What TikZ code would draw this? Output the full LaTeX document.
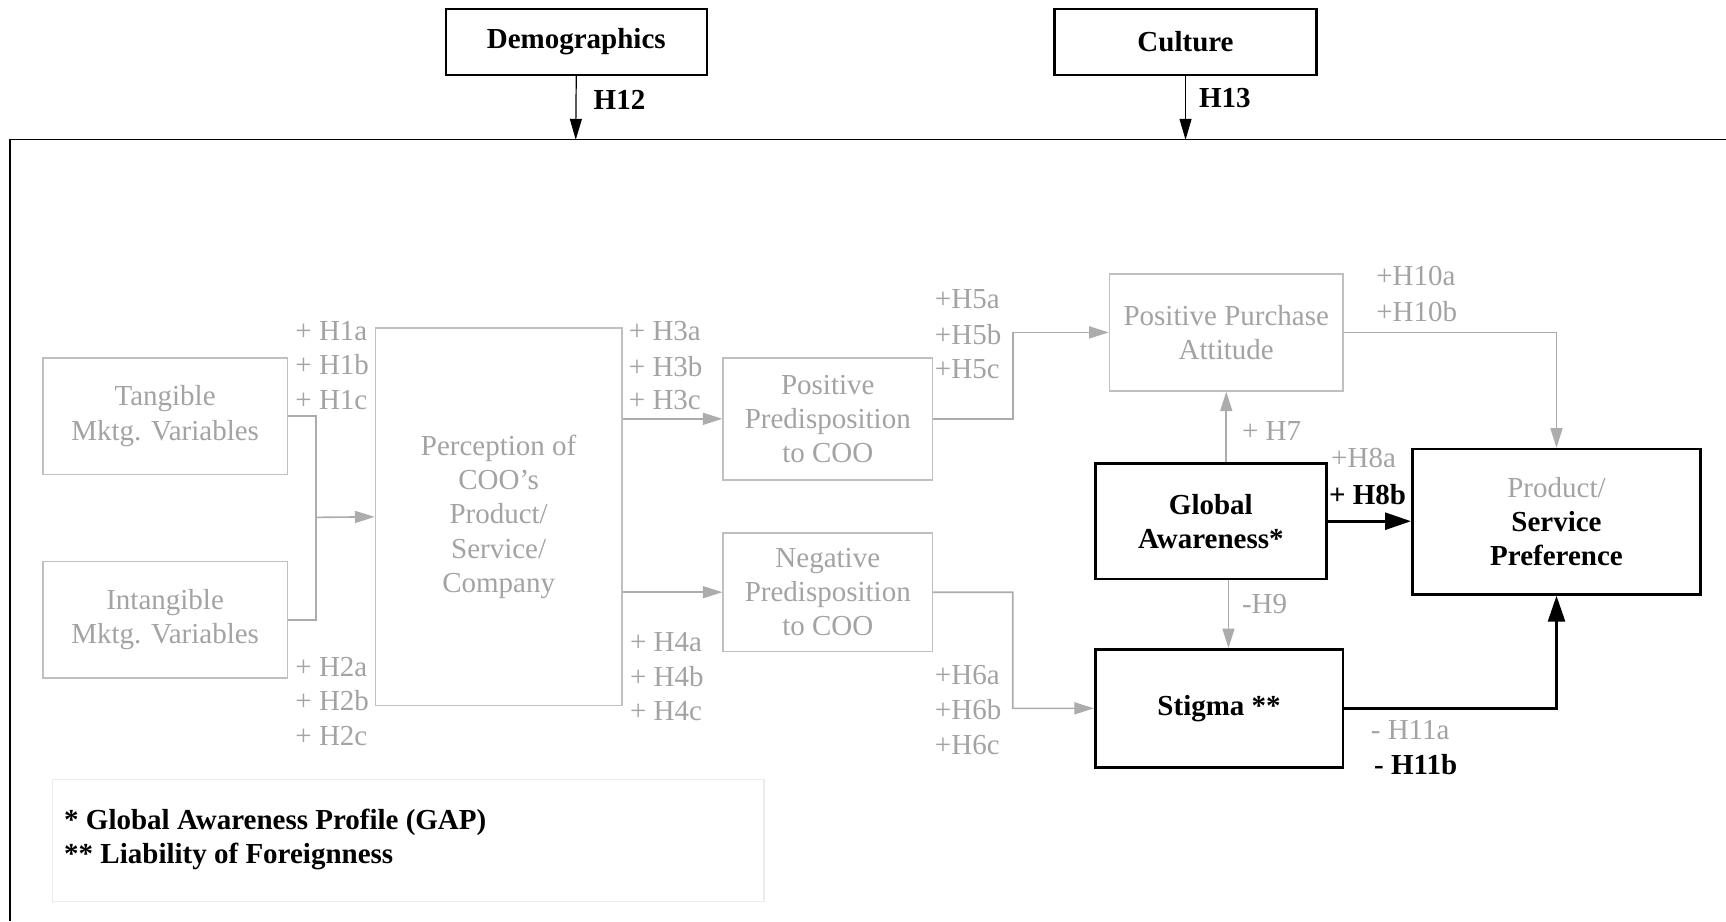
\documentclass[tikz,border=0pt]{standalone}
\usepackage{fontspec}
\setmainfont{Liberation Serif}
\usetikzlibrary{arrows.meta,fit}
\definecolor{cText}{RGB}{163,163,163}
\definecolor{cLine}{RGB}{192,192,192}
\definecolor{cArrow}{RGB}{172,172,172}
\definecolor{cFaint}{RGB}{236,236,236}
\newcommand{\fsz}{\fontsize{14.5}{17.1}\selectfont}
\begin{document}
\begin{tikzpicture}[x=0.5504pt,y=-0.5504pt,font=\fsz,
  gbox/.style={draw=cLine, line width=0.8pt, inner sep=0pt},
  bbox/.style={draw=black, line width=1.3pt, inner sep=0pt},
  gtxt/.style={inner sep=0pt, text=cText, align=center},
  btxt/.style={inner sep=0pt, align=center, font=\fsz\bfseries},
  lbl/.style={anchor=west, inner sep=0pt, text=cText, text height=11pt, text depth=1.5pt},
  blbl/.style={lbl, text=black, font=\fsz\bfseries},
  gcon/.style={draw=cArrow, line width=0.8pt},
  garr/.style={gcon, -{Triangle[length=9.8pt,width=6pt]}},
  barr/.style={draw=black, line width=1.4pt, -{Triangle[length=13pt,width=8.5pt]}},
  tarr/.style={draw=black, line width=0.6pt, -{Triangle[length=10.5pt,width=6pt]}}]
\useasboundingbox (0,0) rectangle (1568,837);

% outer frame
\coordinate (fbl) at (9,837);
\coordinate (ftl) at (9,127);
\coordinate (ftr) at (1568,127);
\draw[line width=0.7pt] (fbl) -- (ftl) -- (ftr);

% top boxes
\node[bbox, line width=1.1pt, fit={(405,8) (642,68)}] (demo) {};
\node[btxt] (demoT) at (demo.center) {Demographics};
\node[bbox, line width=1.1pt, fit={(958,8) (1196,68)}] (cult) {};
\node[btxt] (cultT) at (cult.center) {Culture};
\coordinate (f1) at (523,127);
\coordinate (f2) at (1077,127);
\draw[tarr] (demo.south) -- (f1);
\draw[tarr] (cult.south) -- (f2);
\node[blbl] (h12) at (539,91) {H12};
\node[blbl] (h13) at (1089,89) {H13};

% grey boxes
\node[gbox, fit={(39,325) (261,431)}] (tang) {};
\node[gtxt] (tangT) at (tang.center) {Tangible\\Mktg. Variables};
\node[gbox, fit={(39,510) (261,616)}] (intang) {};
\node[gtxt] (intangT) at (intang.center) {Intangible\\Mktg. Variables};
\node[gbox, fit={(341,298) (565,641)}] (perc) {};
\node[gtxt] (percT) at (perc.center) {Perception of\\COO’s\\Product/\\Service/\\Company};
\node[gbox, fit={(657,325) (847,436)}] (pos) {};
\node[gtxt] (posT) at (pos.center) {Positive\\Predisposition\\to COO};
\node[gbox, fit={(657,484) (847,592)}] (neg) {};
\node[gtxt] (negT) at (neg.center) {Negative\\Predisposition\\to COO};
\node[gbox, fit={(1008,249) (1220,355)}] (pp) {};
\node[gtxt] (ppT) at (pp.center) {Positive Purchase\\Attitude};

% black boxes
\node[bbox, fit={(995,421) (1205,526)}] (ga) {};
\node[btxt] (gaT) at (ga.center) {Global\\Awareness*};
\node[bbox, fit={(995,590) (1220,697)}] (stig) {};
\node[btxt] (stigT) at (stig.center) {Stigma **};
\node[bbox, fit={(1283,408) (1545,540)}] (prod) {};
\node[btxt] (prodT) at (prod.center) {{\mdseries\color{cText}Product/}\\Service\\Preference};

% grey connectors
\coordinate (j1) at (287,470);
\draw[gcon] (tang.east) -| (j1) |- (intang.east);
\draw[garr] (j1) -- (perc.west);
\draw[garr] (perc.east |- pos.west) -- (pos.west);
\draw[garr] (perc.east |- neg.west) -- (neg.west);
\coordinate (j2) at (920,302);
\draw[garr] (pos.east) -| (j2) -- (pp.west);
\coordinate (j3) at (920,643.5);
\draw[garr] (neg.east) -| (j3) -- (stig.west);
\draw[garr] (pp.east) -| (prod.north);
\draw[garr] (pp.south |- ga.north) -- (pp.south);
\coordinate (x9) at (1116,0);
\draw[garr] (ga.south -| x9) -- (stig.north -| x9);

% black connectors
\draw[barr] (ga.east) -- (ga.east -| prod.west);
\draw[barr] (stig.east) -| (prod.south);

% labels
\node[lbl] (l1a) at (268,301) {+ H1a};
\node[lbl] (l1b) at (268,332) {+ H1b};
\node[lbl] (l1c) at (268,363) {+ H1c};
\node[lbl] (l2a) at (268,606) {+ H2a};
\node[lbl] (l2b) at (268,637) {+ H2b};
\node[lbl] (l2c) at (268,669) {+ H2c};
\node[lbl] (l3a) at (571,301) {+ H3a};
\node[lbl] (l3b) at (571,333) {+ H3b};
\node[lbl] (l3c) at (571,363) {+ H3c};
\node[lbl] (l4a) at (572,583) {+ H4a};
\node[lbl] (l4b) at (572,615) {+ H4b};
\node[lbl] (l4c) at (572,646) {+ H4c};
\node[lbl] (l5a) at (849,272) {+H5a};
\node[lbl] (l5b) at (849,304) {+H5b};
\node[lbl] (l5c) at (849,335) {+H5c};
\node[lbl] (l6a) at (849,613) {+H6a};
\node[lbl] (l6b) at (849,645) {+H6b};
\node[lbl] (l6c) at (849,677) {+H6c};
\node[lbl] (l10a) at (1250,251) {+H10a};
\node[lbl] (l10b) at (1250,283) {+H10b};
\node[lbl] (l7) at (1128,392) {+ H7};
\node[lbl] (l8a) at (1209,416) {+H8a};
\node[blbl] (l8b) at (1207,450) {+ H8b};
\node[lbl] (l9) at (1128,549) {-H9};
\node[lbl] (l11a) at (1245,663) {- H11a};
\node[blbl] (l11b) at (1248,695) {- H11b};

% legend
\node[draw=cFaint, line width=0.6pt, inner sep=0pt, fit={(48,708) (694,819)}] (leg) {};
\node[anchor=west, inner sep=0pt, align=left, font=\fsz\bfseries] (legtext) at (58,763)
  {* Global Awareness Profile (GAP)\\** Liability of Foreignness};
\end{tikzpicture}
\end{document}
